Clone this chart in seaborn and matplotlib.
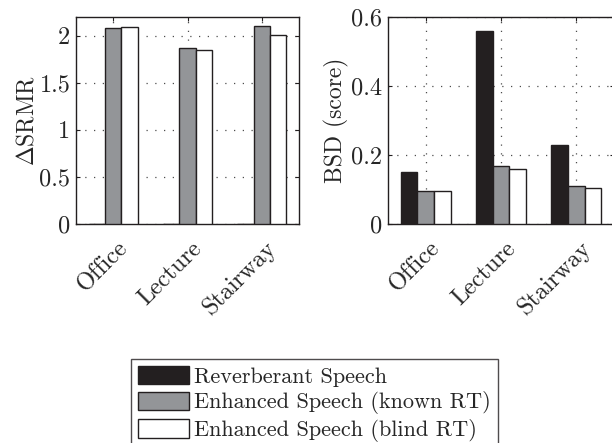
import numpy as np
import pandas as pd
import matplotlib
matplotlib.use("Agg")
import matplotlib.pyplot as plt
from matplotlib.patches import Patch
from matplotlib.ticker import FuncFormatter
from matplotlib.transforms import ScaledTranslation
import seaborn as sns

# Data
rooms = ['Office', 'Lecture', 'Stairway']
conditions = ['Reverberant Speech', 'Enhanced Speech (known RT)', 'Enhanced Speech (blind RT)']
srmr_reverb = [0.0, 0.0, 0.0]
srmr_known = [2.08, 1.87, 2.10]
srmr_blind = [2.09, 1.85, 2.01]
bsd_reverb = [0.150, 0.560, 0.228]
bsd_known = [0.095, 0.167, 0.110]
bsd_blind = [0.095, 0.160, 0.105]

colors = ['#231f20', '#939598', '#ffffff']

def long_frame(series):
    rows = []
    for cond, vals in zip(conditions, series):
        for room, v in zip(rooms, vals):
            rows.append({'room': room, 'condition': cond, 'value': v})
    return pd.DataFrame(rows)

df_srmr = long_frame([srmr_reverb, srmr_known, srmr_blind])
df_bsd = long_frame([bsd_reverb, bsd_known, bsd_blind])

sns.set_theme(style='white')
plt.rcParams['font.family'] = ['cmr10', 'DejaVu Serif']
plt.rcParams['mathtext.fontset'] = 'cm'
plt.rcParams['axes.formatter.use_mathtext'] = True
plt.rcParams['axes.unicode_minus'] = False

fig = plt.figure(figsize=(6.12, 4.43), dpi=100)
W, H = 612, 443
ax1 = fig.add_axes([76 / W, 1 - 224 / H, 223 / W, 207 / H])
ax2 = fig.add_axes([388 / W, 1 - 224 / H, 226 / W, 207 / H])

fmt = FuncFormatter(lambda v, p: '%g' % v)

def draw(ax, df, ylim, yticks, ylabel, ylabelpad):
    sns.barplot(data=df, x='room', y='value', hue='condition', hue_order=conditions,
                palette=colors, width=0.66, edgecolor='#231f20', linewidth=1.0,
                saturation=1, errorbar=None, legend=False, ax=ax, zorder=3)
    ax.set_xlim(-0.5, 2.5)
    ax.set_ylim(*ylim)
    ax.set_yticks(yticks)
    ax.yaxis.set_major_formatter(fmt)
    ax.set_xlabel('')
    ax.set_ylabel(ylabel, fontsize=17, labelpad=ylabelpad)
    ax.grid(True, linestyle=(0, (1, 6)), color='0.3', linewidth=0.9, zorder=0)
    ax.set_axisbelow(True)
    for s in ax.spines.values():
        s.set_color('#231f20')
        s.set_linewidth(1.0)
    ax.tick_params(axis='both', direction='in', length=3, width=0.8, color='#231f20',
                   left=True, right=True, top=True, bottom=True, labelsize=17.5)
    ax.tick_params(axis='y', pad=4)
    ax.tick_params(axis='x', pad=15)
    shift = ScaledTranslation(8 / 72, 0, fig.dpi_scale_trans)
    for lab in ax.get_xticklabels():
        lab.set_rotation(45)
        lab.set_ha('right')
        lab.set_va('center')
        lab.set_rotation_mode('anchor')
        lab.set_transform(lab.get_transform() + shift)

draw(ax1, df_srmr, (0, 2.2), [0, 0.5, 1, 1.5, 2], r'$\Delta$SRMR', 1)
draw(ax2, df_bsd, (0, 0.6), [0, 0.2, 0.4, 0.6], 'BSD (score)', 2)

handles = [Patch(facecolor=c, edgecolor='#231f20', linewidth=1.0) for c in colors]
leg = fig.legend(handles, conditions, loc='upper left', bbox_to_anchor=(131 / W, 1 - 359 / H),
                 frameon=True, fancybox=False, borderaxespad=0, fontsize=16,
                 handlelength=2.3, handleheight=0.9, handletextpad=0.25,
                 labelspacing=0.22, borderpad=0.3)
leg.get_frame().set_edgecolor('#231f20')
leg.get_frame().set_linewidth(1.0)

fig.savefig('out.png', dpi=100)
